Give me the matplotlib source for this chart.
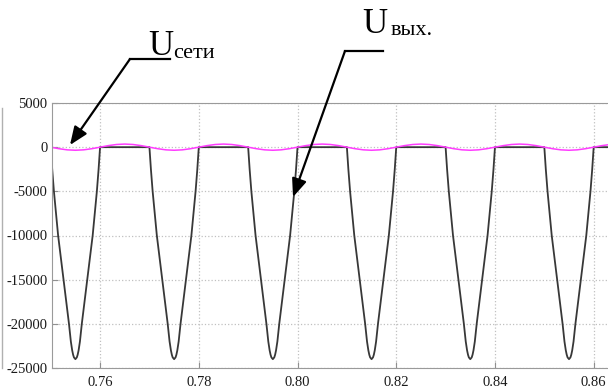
import matplotlib
matplotlib.use("Agg")
import matplotlib.pyplot as plt
from matplotlib.lines import Line2D

# ---- data ----
# output voltage: one negative dip per mains period (half period = 0.01 s)
dip_starts = [0.75, 0.77, 0.79, 0.81, 0.83, 0.85]
dip_frac = [0, 0.015, 0.03, 0.065, 0.15, 0.26, 0.315, 0.37, 0.408, 0.435, 0.454, 0.471, 0.5,
            0.529, 0.546, 0.565, 0.592, 0.63, 0.685, 0.74, 0.85, 0.935, 0.97, 0.985, 1.0]
dip_vals = [0, -1200, -2500, -5000, -10000, -15000, -17500, -20000, -22000, -23000, -23500, -23800, -24000,
            -23800, -23500, -23000, -22000, -20000, -17500, -15000, -10000, -5000, -2500, -1200, 0]
half_period = 0.01

# mains voltage (small on this scale), one period sampled
mains_starts = [0.75, 0.77, 0.79, 0.81, 0.83, 0.85]
mains_frac = [0, 1/12, 2/12, 3/12, 4/12, 5/12, 6/12, 7/12, 8/12, 9/12, 10/12, 11/12, 1]
mains_vals = [0, -175, -303, -350, -303, -175, 0, 175, 303, 350, 303, 175, 0]
period = 0.02

xticks = [0.76, 0.78, 0.80, 0.82, 0.84, 0.86]
xticklabels = ["0.76", "0.78", "0.80", "0.82", "0.84", "0.86"]
yticks = [5000, 0, -5000, -10000, -15000, -20000, -25000]

x0, x1 = 0.7502, 0.8629

t_out, u_out = [], []
for s in dip_starts:
    for f, v in zip(dip_frac, dip_vals):
        t_out.append(s + f * half_period)
        u_out.append(v)
t_out.append(x1 + 0.01)
u_out.append(0)

t_net, u_net = [], []
for s in mains_starts:
    for f, v in zip(mains_frac, mains_vals):
        t_net.append(s + f * period)
        u_net.append(v)

W, H = 608, 390
plt.rcParams["font.family"] = ["Liberation Serif", "DejaVu Serif"]
plt.rcParams["axes.unicode_minus"] = False
fig = plt.figure(figsize=(W / 100, H / 100), dpi=100)
ax = fig.add_axes([51.7 / W, 22 / H, (W - 51.7) / W, 265 / H])

ax.plot(t_out, u_out, color="#383838", lw=1.3)
ax.plot(t_net, u_net, color="#ff3cff", lw=1.1)

ax.set_xlim(x0, x1)
ax.set_ylim(-25000, 5000)
ax.set_xticks(xticks)
ax.set_xticklabels(xticklabels)
ax.set_yticks(yticks)
ax.grid(True, ls=":", color="#c0c0c0", lw=0.9)
ax.tick_params(direction="in", length=4, color="#909090", labelsize=10.5,
               labelcolor="#1a1a1a")
ax.tick_params(axis="x", pad=6)
ax.tick_params(axis="y", pad=3)
for side in ["left", "top", "bottom"]:
    ax.spines[side].set_color("#9a9a9a")
ax.spines["right"].set_visible(False)

# fragment of neighbouring window at the left edge
fig.add_artist(Line2D([2 / W, 2 / W], [1 - 108 / H, 1 - 368 / H], color="#b0b0b0", lw=1))

# labels
def fx(px):
    return px / W

def fy(py):
    return 1 - py / H

fig.text(fx(148), fy(55), "U", fontsize=25, va="baseline", ha="left")
fig.text(fx(173), fy(58), "сети", fontsize=16, va="baseline", ha="left")
fig.text(fx(362), fy(33), "U", fontsize=25, va="baseline", ha="left")
fig.text(fx(391), fy(35), "вых.", fontsize=16, va="baseline", ha="left")

# leader lines with arrows
for (hx0, hx1, hy), tip in [((170, 130, 59), (70, 145)), ((383, 345, 51), (293, 197))]:
    fig.add_artist(Line2D([fx(hx0), fx(hx1)], [fy(hy), fy(hy)], color="black", lw=1.6))
    ax.annotate("", xy=(tip[0], H - tip[1]), xycoords="figure pixels",
                xytext=(hx1, H - hy), textcoords="figure pixels",
                arrowprops=dict(arrowstyle="-|>,head_length=11,head_width=4.5",
                                mutation_scale=1, color="black", lw=1.6,
                                shrinkA=0, shrinkB=0),
                annotation_clip=False)

fig.savefig("out.png", dpi=100)
